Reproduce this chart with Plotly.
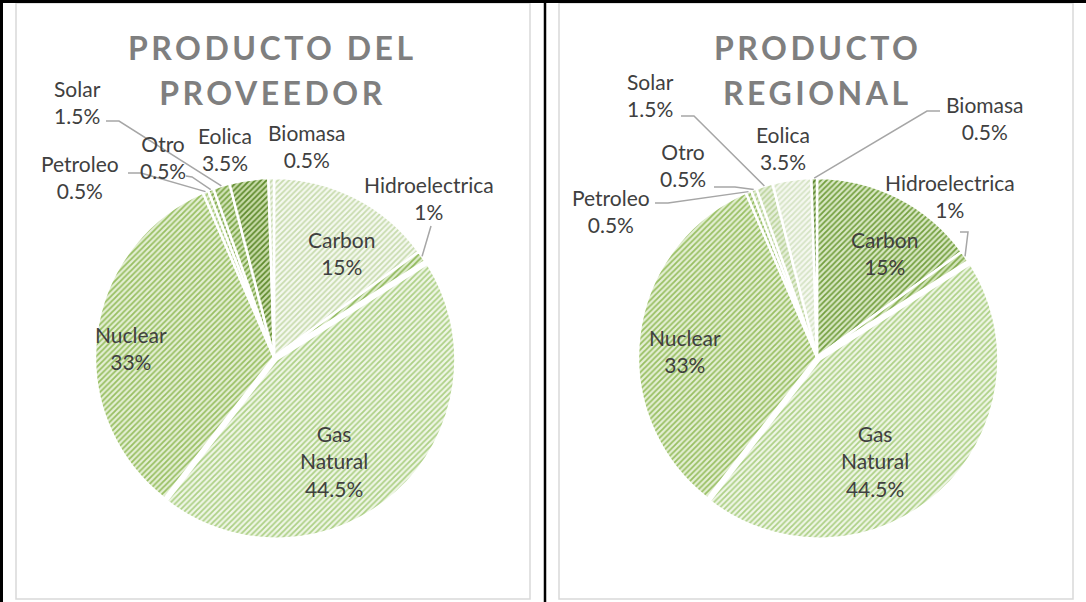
import math
import plotly.graph_objects as go

# ---------------- data ----------------
categories = ["Carbon", "Hidroelectrica", "Gas Natural", "Nuclear",
              "Petroleo", "Otro", "Solar", "Eolica", "Biomasa"]
proveedor = [15, 1, 44.5, 33, 0.5, 0.5, 1.5, 3.5, 0.5]
regional = [15, 1, 44.5, 33, 0.5, 0.5, 1.5, 3.5, 0.5]
title_left = ["PRODUCTO DEL", "PROVEEDOR"]
title_right = ["PRODUCTO", "REGIONAL"]

# ---------------- styles / layout ----------------
W, H = 1086, 602
R = 179
PULL = [0, 0, 0.02, 0, 0, 0, 0, 0, 0]

left_bg = ["#f5f9f0", "#e0edcf", "#eff6e6", "#e4efd4", "#e4efd5", "#d3e4bb", "#d3e4ba", "#c9dcaa", "#eef4e6"]
left_fg = ["#c8dbae", "#8fb85a", "#add086", "#98bf62", "#a5c775", "#7ea748", "#79a444", "#5e8a2c", "#c5d9ad"]
right_bg = ["#d9e8c4", "#d3e5bb", "#eff6e6", "#e4efd4", "#dbe9c6", "#e3eed6", "#e6efdb", "#f5f8f0", "#b9d197"]
right_fg = ["#739f3f", "#83ac4d", "#add086", "#98bf62", "#8db859", "#b3cf90", "#bcd49c", "#d5e3c4", "#53802a"]

charts = [
    dict(values=proveedor, center=(274, 357), bg=left_bg, fg=left_fg, title=title_left,
         title_y=(47, 93), title_x=272,
         labels={"Carbon": (342, 253), "Hidroelectrica": (429, 198), "Gas Natural": (334, 461),
                 "Nuclear": (131, 348), "Petroleo": (80, 177), "Otro": (163, 157),
                 "Solar": (77, 102), "Eolica": (225, 149), "Biomasa": (307, 146)},
         leaders={"Solar": [(106, 121), (119, 121)], "Petroleo": [(128, 173), (141, 173)],
                  "Otro": [(186, 176), (192, 177)], "Hidroelectrica": [(431, 226)]}),
    dict(values=regional, center=(817, 357), bg=right_bg, fg=right_fg, title=title_right,
         title_y=(47, 93), title_x=817,
         labels={"Carbon": (885, 253), "Hidroelectrica": (950, 196), "Gas Natural": (875, 461),
                 "Nuclear": (685, 351), "Petroleo": (611, 211), "Otro": (683, 165),
                 "Solar": (650, 95), "Eolica": (783, 148), "Biomasa": (985, 118)},
         leaders={"Solar": [(681, 116), (694, 116)], "Otro": [(714, 187), (735, 187)],
                  "Petroleo": [(655, 203), (668, 203)], "Biomasa": [(940, 111), (927, 111)],
                  "Hidroelectrica": [(960, 232), (968, 232)]}),
]

LABEL_FONT = dict(family="Lato, Calibri, sans-serif", size=21, color="#404040")
TITLE_FONT = dict(family="Lato, Calibri, sans-serif", size=32, color="#7f7f7f", weight="bold")


def px(x):
    return x / W


def py(y):
    return 1 - y / H


fig = go.Figure()
annotations = []
shapes = []

for ch in charts:
    cx, cy = ch["center"]
    half = R * (1 + max(PULL))
    fig.add_trace(go.Pie(
        labels=categories, values=ch["values"], sort=False, direction="clockwise",
        rotation=0, pull=PULL, textinfo="none", hoverinfo="label+percent",
        showlegend=False,
        domain=dict(x=[px(cx - half), px(cx + half)], y=[py(cy + half), py(cy - half)]),
        marker=dict(colors=ch["bg"],
                    line=dict(color="white", width=2.5),
                    pattern=dict(shape="/", fgcolor=ch["fg"], bgcolor=ch["bg"],
                                 size=4, solidity=0.45, fillmode="replace")),
    ))
    total = sum(ch["values"])
    cum = 0
    for cat, v in zip(categories, ch["values"]):
        mid = (cum + v / 2) / total * 2 * math.pi
        cum += v
        pct = f"{v:g}%"
        name = cat.replace(" ", "<br>")
        lx, ly = ch["labels"][cat]
        annotations.append(dict(x=px(lx), y=py(ly), xref="paper", yref="paper",
                                text=f"{name}<br>{pct}", showarrow=False,
                                xanchor="center", yanchor="middle", font=LABEL_FONT))
        if cat in ch["leaders"]:
            pts = list(ch["leaders"][cat])
            ex = cx + R * math.sin(mid)
            ey = cy - R * math.cos(mid)
            pts.append((ex, ey))
            path = "M " + " L ".join(f"{px(a):.5f},{py(b):.5f}" for a, b in pts)
            shapes.append(dict(type="path", path=path, xref="paper", yref="paper",
                               line=dict(color="#a6a6a6", width=1.5)))
    for t, ty in zip(ch["title"], ch["title_y"]):
        annotations.append(dict(x=px(ch["title_x"]), y=py(ty), xref="paper", yref="paper",
                                text=t, showarrow=False, xanchor="center", yanchor="middle",
                                font=TITLE_FONT))

# frames
shapes += [
    dict(type="rect", xref="paper", yref="paper", x0=px(16), x1=px(530), y0=py(599), y1=py(3),
         line=dict(color="#d9d9d9", width=1.5), layer="below"),
    dict(type="rect", xref="paper", yref="paper", x0=px(559), x1=px(1073), y0=py(599), y1=py(3),
         line=dict(color="#d9d9d9", width=1.5), layer="below"),
    dict(type="line", xref="paper", yref="paper", x0=px(1.5), x1=px(1.5), y0=0, y1=1,
         line=dict(color="black", width=3)),
    dict(type="line", xref="paper", yref="paper", x0=0, x1=1, y0=py(1.5), y1=py(1.5),
         line=dict(color="black", width=3)),
    dict(type="line", xref="paper", yref="paper", x0=px(545), x1=px(545), y0=0, y1=1,
         line=dict(color="black", width=2.5)),
]

fig.update_layout(width=W, height=H, margin=dict(l=0, r=0, t=0, b=0),
                  paper_bgcolor="white", plot_bgcolor="white",
                  annotations=annotations, shapes=shapes)

titles = title_left + title_right
post = """
document.documentElement.style.margin = '0';
document.documentElement.style.padding = '0';
document.body.style.margin = '0';
document.body.style.padding = '0';
document.body.style.overflow = 'hidden';
var T = %s;
function spaceTitles(){
  document.querySelectorAll('.annotation-text').forEach(function(e){
    if (T.indexOf(e.textContent) >= 0) { e.style.letterSpacing = '3.5px'; }
  });
}
spaceTitles();
var gd = document.getElementById('{plot_id}');
if (gd && gd.on) { gd.on('plotly_afterplot', spaceTitles); }
""" % str(titles).replace("'", '"')

fig.write_html("out.html", post_script=post, config={"displayModeBar": False})
